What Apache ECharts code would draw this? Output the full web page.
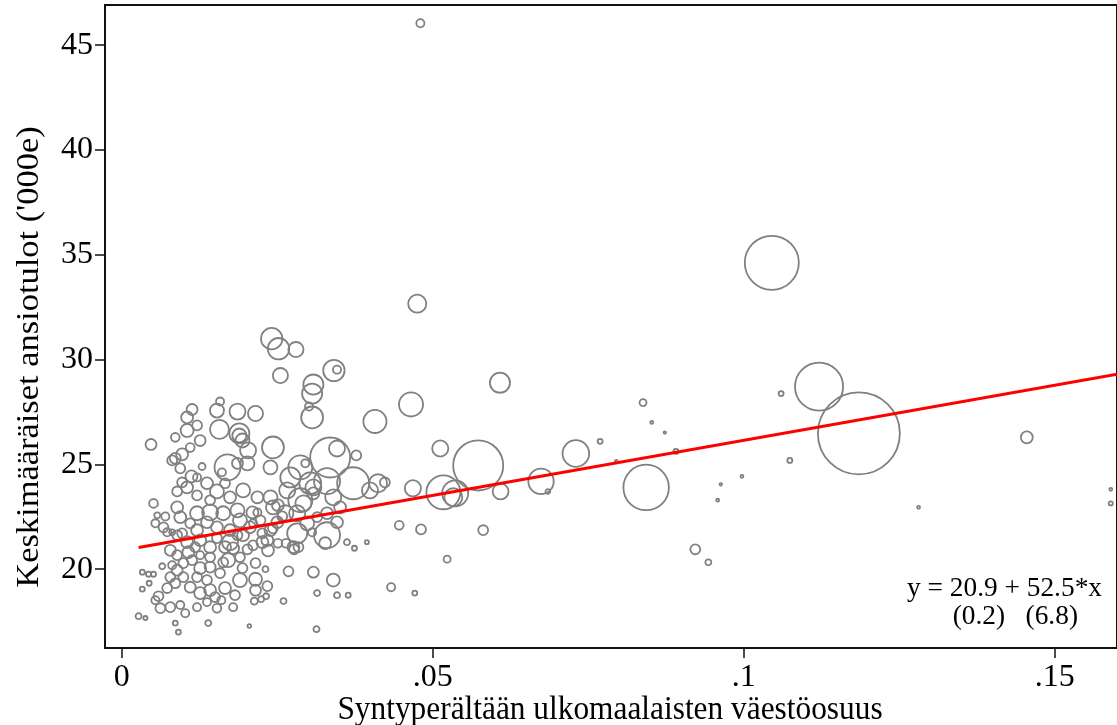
<!DOCTYPE html>
<html>
<head>
<meta charset="utf-8">
<title>Ulkomaalaisten väestöosuus ja ansiotulot</title>
<script src="https://cdn.jsdelivr.net/npm/echarts@6/dist/echarts.min.js"></script>
<style>
  html, body { margin: 0; padding: 0; background: #fff; }
  #chart { width: 1117px; height: 725px; }
</style>
</head>
<body>
<div id="chart"></div>
<script>
// kunnat: [ulkomaalaisten osuus, keskimääräiset ansiotulot (1000e), asukkaat (1000)]
const bigCities = [
  [0.048, 46.05, 6], [0.1045, 34.62, 268], [0.0475, 32.67, 30], [0.1121, 28.71, 212],
  [0.1185, 26.48, 617], [0.0843, 23.9, 190], [0.0573, 24.95, 230], [0.073, 25.52, 65],
  [0.0674, 24.19, 59], [0.0517, 23.67, 106], [0.0536, 23.62, 62], [0.0533, 23.43, 30],
  [0.0512, 25.76, 24], [0.0465, 27.86, 53], [0.0608, 28.9, 37], [0.0468, 23.86, 24],
  [0.0609, 23.71, 23], [0.0446, 22.1, 7], [0.0481, 21.9, 9], [0.0581, 21.86, 9],
  [0.0523, 20.48, 4.5], [0.0433, 19.14, 6], [0.0471, 18.86, 2.3], [0.0838, 27.95, 4.5],
  [0.0852, 27.0, 0.8], [0.0873, 26.52, 0.5], [0.0769, 26.1, 2.3], [0.0891, 25.62, 2.3],
  [0.0795, 25.14, 0.8], [0.0685, 23.71, 2], [0.106, 28.38, 2.3], [0.1455, 26.29, 13],
  [0.1074, 25.19, 2.3], [0.0997, 24.43, 0.8], [0.0963, 24.05, 0.6], [0.0958, 23.29, 0.8],
  [0.1281, 22.95, 0.8], [0.159, 23.81, 0.8], [0.159, 23.14, 1.5], [0.0922, 20.95, 9],
  [0.0943, 20.33, 3.3]
];

const upperCluster = [
  [0.0241, 31.0, 42], [0.0252, 30.52, 42], [0.028, 30.48, 21], [0.0255, 29.24, 21],
  [0.0341, 29.48, 42], [0.0346, 29.52, 6], [0.0308, 28.81, 37], [0.0306, 28.38, 37],
  [0.0301, 27.76, 6], [0.0306, 27.24, 44], [0.0407, 27.05, 49], [0.0047, 25.95, 11],
  [0.0086, 26.29, 7], [0.0105, 26.62, 15.5], [0.0113, 27.62, 11], [0.0105, 27.24, 13],
  [0.0121, 26.86, 9], [0.0158, 28.0, 6], [0.0153, 27.57, 18], [0.0186, 27.52, 23.5],
  [0.0215, 27.43, 21], [0.0157, 26.67, 33], [0.0189, 26.48, 37], [0.0189, 26.38, 18],
  [0.0194, 26.14, 18], [0.0203, 25.67, 23.5], [0.0243, 25.81, 44], [0.0126, 26.14, 11],
  [0.011, 25.81, 7], [0.0086, 25.29, 11], [0.0097, 25.48, 13], [0.0094, 24.81, 9],
  [0.0129, 24.9, 4.5], [0.017, 24.86, 62], [0.0161, 24.62, 6], [0.0202, 25.05, 18],
  [0.0239, 24.86, 18], [0.0287, 24.86, 53], [0.0295, 25.05, 6], [0.0335, 25.33, 147],
  [0.0346, 25.76, 23.5], [0.0377, 25.43, 9], [0.0372, 24.1, 94], [0.0412, 24.1, 30],
  [0.0423, 24.14, 9], [0.033, 24.2, 62], [0.0303, 24.1, 44], [0.0271, 24.38, 37],
  [0.0081, 25.19, 9], [0.0112, 24.43, 13], [0.0186, 25.05, 11]
];

const middleBand = [
  [0.0051, 23.14, 7], [0.0089, 22.95, 13], [0.0057, 22.57, 3.3], [0.007, 22.52, 6],
  [0.0054, 22.19, 6], [0.0067, 22.0, 9], [0.0073, 21.76, 6], [0.0081, 21.76, 3.3],
  [0.0097, 21.71, 9], [0.0078, 20.9, 11], [0.0089, 21.62, 9], [0.0105, 21.29, 13],
  [0.0118, 21.05, 9], [0.0126, 21.38, 13], [0.0142, 21.05, 13], [0.0153, 21.48, 9],
  [0.0166, 21.05, 13], [0.0179, 21.0, 13], [0.0174, 21.29, 23.5], [0.0171, 20.43, 18],
  [0.0195, 21.62, 13], [0.0211, 21.14, 9], [0.0206, 22.0, 13], [0.019, 22.33, 18],
  [0.0174, 21.86, 13], [0.0153, 22.0, 13], [0.0137, 22.24, 13], [0.0121, 21.86, 13],
  [0.011, 22.19, 9], [0.0094, 22.48, 13], [0.0121, 22.67, 18], [0.0142, 22.71, 23.5],
  [0.0163, 22.67, 18], [0.0186, 22.81, 18], [0.021, 22.71, 13], [0.0223, 22.33, 9],
  [0.0239, 21.86, 13], [0.0234, 21.38, 13], [0.025, 22.24, 13], [0.0263, 22.67, 23.5],
  [0.0243, 22.95, 18], [0.0282, 22.67, 23.5], [0.0298, 22.19, 18], [0.0314, 22.48, 9],
  [0.0292, 23.14, 23.5], [0.0308, 23.62, 13], [0.033, 22.67, 13], [0.0346, 22.24, 13],
  [0.0276, 21.05, 13], [0.0282, 21.71, 37], [0.033, 21.62, 62], [0.0327, 21.24, 13],
  [0.0306, 21.76, 6], [0.0362, 21.29, 3.3], [0.0374, 21.0, 2.3], [0.0394, 21.29, 1.5],
  [0.0277, 20.95, 9], [0.0284, 21.05, 9], [0.0251, 21.24, 7], [0.0264, 21.24, 7],
  [0.0235, 20.9, 13], [0.0226, 21.29, 13], [0.0226, 21.71, 9], [0.0243, 21.95, 9],
  [0.0258, 22.52, 9], [0.0251, 23.05, 13], [0.0218, 23.43, 13], [0.0239, 23.43, 18],
  [0.0266, 23.76, 23.5], [0.0287, 23.29, 53], [0.0308, 23.9, 23.5], [0.034, 23.43, 23.5],
  [0.0351, 22.95, 13], [0.0399, 23.76, 23.5], [0.0218, 22.71, 6], [0.0211, 22.19, 6],
  [0.0089, 23.71, 9], [0.0105, 23.9, 13], [0.0121, 23.52, 9], [0.0137, 24.1, 13],
  [0.0153, 23.71, 18], [0.0142, 23.29, 9], [0.0174, 23.43, 13], [0.0195, 23.76, 18],
  [0.0121, 24.38, 6], [0.0097, 24.14, 9], [0.0166, 24.1, 9]
];

const lowerCluster = [
  [0.0065, 20.14, 3.3], [0.0033, 19.86, 2.3], [0.0043, 19.76, 2.3], [0.0051, 19.76, 2.3],
  [0.0044, 19.33, 2.3], [0.0033, 19.05, 2.3], [0.0027, 17.76, 3.3], [0.0038, 17.67, 1.5],
  [0.0086, 17.43, 2.3], [0.0091, 17.0, 2.3], [0.0139, 17.43, 3.3], [0.0205, 17.29, 1.2],
  [0.0313, 17.14, 3.3], [0.0268, 19.9, 9], [0.0308, 19.86, 11], [0.034, 19.48, 15.5],
  [0.0314, 18.86, 3.3], [0.0346, 18.76, 3.3], [0.0364, 18.76, 2.3], [0.026, 18.48, 3.3],
  [0.0231, 20.0, 3.3], [0.0215, 20.29, 9], [0.019, 20.57, 9], [0.0194, 20.05, 9],
  [0.0166, 19.1, 13], [0.019, 19.48, 18], [0.0215, 19.52, 15.5], [0.0234, 19.19, 9],
  [0.0215, 19.0, 11], [0.0182, 18.76, 9], [0.0213, 18.48, 4.5], [0.0179, 18.19, 6],
  [0.016, 18.52, 6], [0.0153, 18.14, 7], [0.0137, 18.43, 6], [0.0121, 18.19, 6],
  [0.0102, 17.9, 6], [0.0094, 18.29, 6], [0.0078, 18.19, 9], [0.0062, 18.14, 9],
  [0.0054, 18.52, 6], [0.0059, 18.71, 9], [0.0073, 19.1, 9], [0.0086, 19.33, 9],
  [0.0078, 19.62, 9], [0.0089, 19.95, 11], [0.0099, 19.62, 9], [0.011, 19.14, 11],
  [0.0126, 18.86, 13], [0.0142, 19.0, 13], [0.0137, 19.48, 9], [0.0121, 19.62, 9],
  [0.015, 18.67, 9], [0.0126, 20.05, 13], [0.0142, 20.1, 11], [0.0163, 20.33, 9],
  [0.0158, 19.81, 9], [0.0142, 20.57, 9], [0.0126, 20.67, 6], [0.0107, 20.81, 13],
  [0.0113, 20.43, 9], [0.0099, 20.29, 9], [0.0089, 20.67, 9], [0.0081, 20.19, 6],
  [0.0232, 18.71, 3.3], [0.0224, 18.57, 3.3], [0.0202, 20.95, 9], [0.0186, 21.62, 9]
];

// regressiosuora (päätepisteet kuvasta) ja sen teksti
const fitLine = [[0.0027, 21.04], [0.16, 29.3]];
const fitText = ['y = 20.9 + 52.5*x', '(0.2)   (6.8)'];

// akselit
const xTicks = [0, 0.05, 0.1, 0.15];
const yTicks = [20, 25, 30, 35, 40, 45];
const xTitle = 'Syntyperältään ulkomaalaisten väestöosuus';
const yTitle = "Keskimääräiset ansiotulot ('000e)";

const FONT = '"Liberation Serif", "DejaVu Serif", serif';
const municipalities = [].concat(bigCities, upperCluster, middleBand, lowerCluster);

const chart = echarts.init(document.getElementById('chart'));

chart.setOption({
  animation: false,
  backgroundColor: '#fff',
  grid: {
    left: 105, top: 5, right: 0, bottom: 77,
    show: true, borderColor: '#111', borderWidth: 2
  },
  xAxis: {
    type: 'value',
    min: -0.0027, max: 0.16,
    splitLine: { show: false },
    axisLine: { onZero: false, lineStyle: { color: '#111', width: 2 } },
    axisTick: { customValues: xTicks, length: 10, lineStyle: { color: '#111', width: 1.5 } },
    axisLabel: {
      customValues: xTicks, margin: 14, color: '#000', fontFamily: FONT, fontSize: 32,
      formatter: v => (v === 0 ? '0' : String(v).replace(/^0/, ''))
    }
  },
  yAxis: {
    type: 'value',
    min: 16.24, max: 46.92,
    splitLine: { show: false },
    axisLine: { onZero: false, lineStyle: { color: '#111', width: 2 } },
    axisTick: { customValues: yTicks, length: 10, lineStyle: { color: '#111', width: 1.5 } },
    axisLabel: { customValues: yTicks, margin: 12, color: '#000', fontFamily: FONT, fontSize: 32 }
  },
  series: [
    {
      type: 'scatter',
      data: municipalities,
      symbol: 'circle',
      symbolSize: v => Math.max(2.4, 3.3 * Math.sqrt(v[2])),
      itemStyle: { color: 'rgba(0,0,0,0)', borderColor: '#808080', borderWidth: 1.8, opacity: 1 },
      emphasis: { disabled: true },
      z: 2
    },
    {
      type: 'line',
      data: fitLine,
      symbol: 'none',
      lineStyle: { color: '#ff0000', width: 3 },
      emphasis: { disabled: true },
      z: 3
    }
  ],
  graphic: [
    {
      type: 'text', x: 30, y: 357, rotation: Math.PI / 2, scaleX: 1.23, scaleY: 1.12,
      style: { text: yTitle, font: '28px ' + FONT, fill: '#000', align: 'center', verticalAlign: 'middle' }
    },
    {
      type: 'text', x: 610, y: 710, scaleX: 1.12, scaleY: 1.22,
      style: { text: xTitle, font: '28px ' + FONT, fill: '#000', align: 'center', verticalAlign: 'middle' }
    },
    {
      type: 'text', x: 1102, y: 589, scaleX: 1.14, scaleY: 1.1,
      style: { text: fitText[0], font: '24px ' + FONT, fill: '#000', align: 'right', verticalAlign: 'middle' }
    },
    {
      type: 'text', x: 1078, y: 617, scaleX: 1.14, scaleY: 1.1,
      style: { text: fitText[1], font: '24px ' + FONT, fill: '#000', align: 'right', verticalAlign: 'middle' }
    }
  ]
});

window.addEventListener('resize', () => chart.resize());
</script>
</body>
</html>
